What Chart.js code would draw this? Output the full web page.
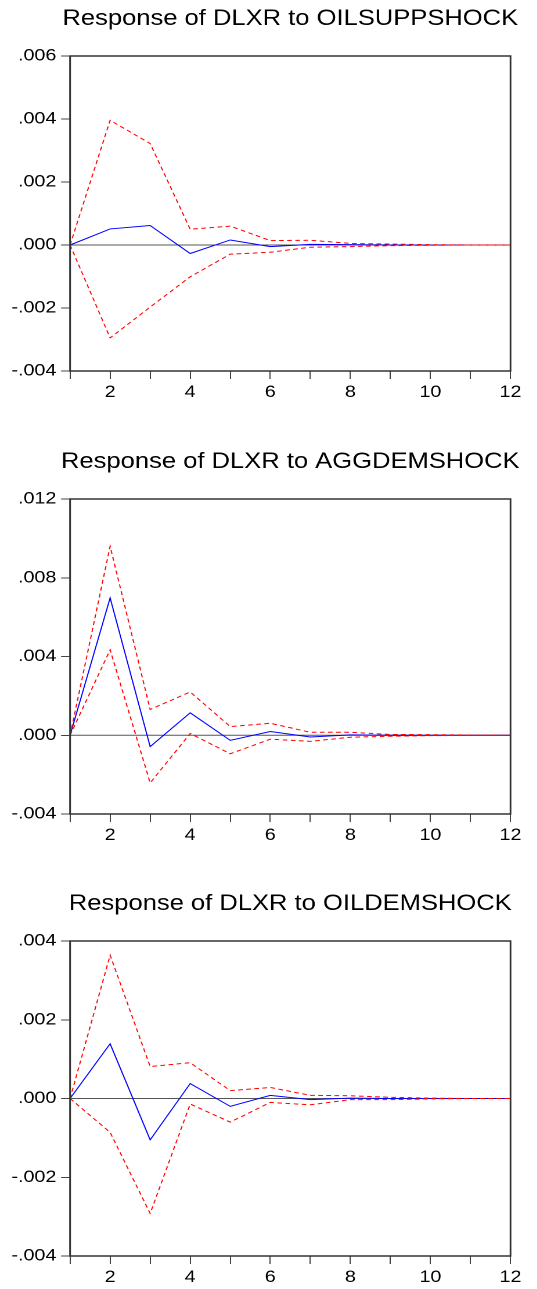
<!DOCTYPE html>
<html lang="en">
<head>
    <meta charset="UTF-8">
    <title>Impulse responses of DLXR</title>
    <script src="https://cdn.jsdelivr.net/npm/chart.js"></script>
    <style>
        body {
            margin: 0;
            padding: 0;
            background: #ffffff;
            width: 537px;
            height: 1289px;
            overflow: hidden;
            position: relative;
        }
        /* the original picture is stretched sideways, so each panel is drawn narrower and scaled */
        .panel {
            position: absolute;
            left: 0;
            width: 462.9px;
            height: 400px;
            transform: scaleX(1.16);
            transform-origin: 0 0;
        }
    </style>
</head>
<body>
    <div class="panel" style="top:0px"><canvas id="chart1"></canvas></div>
    <div class="panel" style="top:443px"><canvas id="chart2"></canvas></div>
    <div class="panel" style="top:885px"><canvas id="chart3"></canvas></div>

    <script>
        // Horizons (x axis)
        const horizons = [1, 2, 3, 4, 5, 6, 7, 8, 9, 10, 11, 12];

        // Panel titles
        const titles = [
            'Response of DLXR to OILSUPPSHOCK',
            'Response of DLXR to AGGDEMSHOCK',
            'Response of DLXR to OILDEMSHOCK'
        ];

        // Oil supply shock
        const supplyResp  = [0, 0.00051, 0.00062, -0.00027, 0.00016, -0.00005, 0.00002, 0.00001, 0, 0, 0, 0];
        const supplyUpper = [0, 0.00396, 0.00322, 0.0005, 0.0006, 0.00014, 0.00015, 0.00005, 0.00003, 0.00001, 0, 0];
        const supplyLower = [0, -0.00295, -0.00197, -0.00101, -0.00029, -0.00023, -0.00007, -0.00005, -0.00002, -0.00001, 0, 0];

        // Aggregate demand shock
        const aggResp  = [0, 0.00698, -0.00058, 0.00114, -0.00026, 0.00019, -0.00009, 0.00002, 0, 0, 0, 0];
        const aggUpper = [0, 0.0096, 0.00131, 0.0022, 0.00044, 0.00061, 0.00015, 0.00015, 0.00004, 0.00003, 0.00001, 0];
        const aggLower = [0, 0.00434, -0.00242, 0.00009, -0.00094, -0.0002, -0.00031, -0.0001, -0.00005, -0.00002, -0.00001, 0];

        // Oil-specific demand shock
        const oilResp  = [0, 0.00139, -0.00105, 0.00038, -0.0002, 0.00008, -0.00003, 0.00001, 0, 0, 0, 0];
        const oilUpper = [0, 0.00364, 0.00081, 0.00091, 0.0002, 0.00028, 0.00008, 0.00007, 0.00003, 0.00001, 0, 0];
        const oilLower = [0, -0.00086, -0.00292, -0.00014, -0.0006, -0.0001, -0.00016, -0.00003, -0.00003, -0.00001, 0, 0];

        // Y axis ranges: [min, max, step]
        const supplyAxis = [-0.004, 0.006, 0.002];
        const aggAxis    = [-0.004, 0.012, 0.004];
        const oilAxis    = [-0.004, 0.004, 0.002];

        const FONT = "'Liberation Sans', Arial, sans-serif";
        const SX = 1.16; // horizontal stretch of the panels

        // Title, frame and zero line
        const framePlugin = {
            id: 'frame',
            beforeDatasetsDraw(chart) {
                const { ctx, chartArea, scales } = chart;
                const y0 = scales.y.getPixelForValue(0);
                ctx.save();
                ctx.strokeStyle = '#555';
                ctx.lineWidth = 1;
                ctx.beginPath();
                ctx.moveTo(chartArea.left, y0);
                ctx.lineTo(chartArea.right, y0);
                ctx.stroke();
                ctx.restore();
            },
            afterDatasetsDraw(chart, args, opts) {
                const { ctx, chartArea } = chart;
                ctx.save();
                ctx.strokeStyle = '#333';
                ctx.lineWidth = 1.5;
                ctx.strokeRect(chartArea.left, chartArea.top, chartArea.right - chartArea.left, chartArea.bottom - chartArea.top);
                ctx.fillStyle = '#000';
                ctx.font = '22px ' + FONT;
                ctx.textAlign = 'center';
                ctx.textBaseline = 'alphabetic';
                ctx.fillText(opts.text, (chartArea.left + chartArea.right) / 2, chartArea.top - 31);
                ctx.restore();
            }
        };

        function makeChart(id, title, resp, upper, lower, axis) {
            const red = {
                borderColor: '#ff0000',
                borderWidth: 1,
                borderDash: [4, 3],
                pointRadius: 0,
                tension: 0,
                fill: false
            };
            return new Chart(document.getElementById(id), {
                type: 'line',
                data: {
                    labels: horizons,
                    datasets: [
                        Object.assign({ data: upper }, red),
                        Object.assign({ data: lower }, red),
                        {
                            data: resp,
                            borderColor: '#0000ff',
                            borderWidth: 1,
                            pointRadius: 0,
                            tension: 0,
                            fill: false
                        }
                    ]
                },
                options: {
                    responsive: true,
                    maintainAspectRatio: false,
                    animation: false,
                    devicePixelRatio: 2,
                    layout: { padding: { top: 56, right: 27 / SX, left: 0, bottom: 0 } },
                    plugins: {
                        legend: { display: false },
                        tooltip: { enabled: false },
                        frame: { text: title }
                    },
                    scales: {
                        x: {
                            offset: false,
                            afterFit: (s) => { s.height = 29; },
                            grid: { drawOnChartArea: false, drawTicks: true, tickLength: 8, color: '#444' },
                            border: { display: false },
                            ticks: {
                                autoSkip: false,
                                maxRotation: 0,
                                padding: 3,
                                color: '#000',
                                font: { family: FONT, size: 17 },
                                callback: (v, i) => (horizons[i] % 2 === 0 ? String(horizons[i]) : '')
                            }
                        },
                        y: {
                            min: axis[0],
                            max: axis[1],
                            afterFit: (s) => { s.width = 70 / SX; },
                            grid: { drawOnChartArea: false, drawTicks: true, tickLength: 9 / SX, color: '#444' },
                            border: { display: false },
                            ticks: {
                                stepSize: axis[2],
                                padding: 4,
                                color: '#000',
                                font: { family: FONT, size: 17 },
                                callback: (v) => v.toFixed(3).replace('0.', '.')
                            }
                        }
                    }
                },
                plugins: [framePlugin]
            });
        }

        makeChart('chart1', titles[0], supplyResp, supplyUpper, supplyLower, supplyAxis);
        makeChart('chart2', titles[1], aggResp, aggUpper, aggLower, aggAxis);
        makeChart('chart3', titles[2], oilResp, oilUpper, oilLower, oilAxis);
    </script>
</body>
</html>
